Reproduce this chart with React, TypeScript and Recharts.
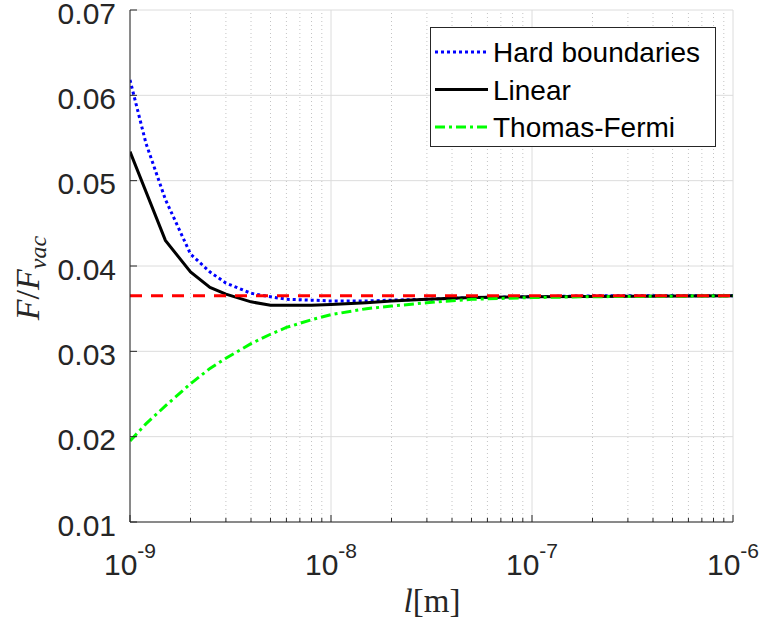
import React from 'react'
import { LineChart, Line, XAxis, YAxis, CartesianGrid, ReferenceLine, Legend } from 'recharts'

// x positions (m) and F/F_vac values
const hardX = [1e-9, 1.2e-9, 1.5e-9, 2e-9, 2.5e-9, 3e-9, 4e-9, 5e-9, 6e-9, 8e-9, 1e-8, 1.5e-8, 2e-8, 3e-8, 5e-8, 1e-7, 2e-7, 1e-6]
const hardY = [0.0618, 0.0544, 0.0478, 0.0414, 0.0393, 0.0380, 0.0368, 0.0364, 0.0361, 0.0360, 0.0359, 0.0359, 0.0360, 0.0361, 0.0363, 0.0364, 0.0365, 0.0365]

const linearX = [1e-9, 1.5e-9, 2e-9, 2.5e-9, 3e-9, 4e-9, 5e-9, 6e-9, 8e-9, 1e-8, 1.5e-8, 2e-8, 3e-8, 5e-8, 1e-7, 1e-6]
const linearY = [0.0534, 0.0430, 0.0393, 0.0375, 0.0367, 0.0358, 0.0354, 0.0354, 0.0354, 0.0355, 0.0357, 0.0359, 0.0361, 0.0363, 0.0364, 0.0365]

const tfX = [1e-9, 1.2e-9, 1.5e-9, 2e-9, 2.5e-9, 3e-9, 4e-9, 5e-9, 6e-9, 8e-9, 1e-8, 1.5e-8, 2e-8, 3e-8, 5e-8, 1e-7, 2e-7, 1e-6]
const tfY = [0.0195, 0.0215, 0.0236, 0.0262, 0.0280, 0.0292, 0.0309, 0.0320, 0.0328, 0.0337, 0.0343, 0.0350, 0.0353, 0.0357, 0.0361, 0.0363, 0.0364, 0.0365]

const asymptoteX = [1e-9, 1e-6]
const asymptoteY = [0.0365, 0.0365]

const majorTicks = [1e-9, 1e-8, 1e-7, 1e-6]
const minorTicks = [
  2e-9, 3e-9, 4e-9, 5e-9, 6e-9, 7e-9, 8e-9, 9e-9,
  2e-8, 3e-8, 4e-8, 5e-8, 6e-8, 7e-8, 8e-8, 9e-8,
  2e-7, 3e-7, 4e-7, 5e-7, 6e-7, 7e-7, 8e-7, 9e-7,
]
const yTicks = [0.01, 0.02, 0.03, 0.04, 0.05, 0.06, 0.07]

const allXTicks = [...majorTicks, ...minorTicks].sort((a, b) => a - b)

const toPoints = (xs: number[], ys: number[]) => xs.map((x, i) => ({ x, y: ys[i] }))

const hardData = toPoints(hardX, hardY)
const linearData = toPoints(linearX, linearY)
const tfData = toPoints(tfX, tfY)
const asymptoteData = toPoints(asymptoteX, asymptoteY)

const AXIS = '#262626'
const FONT = '"Liberation Sans", Arial, Helvetica, sans-serif'
const SERIF = '"Liberation Serif", "Times New Roman", serif'

const isMajor = (v: number) => {
  const e = Math.log10(v)
  return Math.abs(e - Math.round(e)) < 1e-6
}

function BottomTick({ x, y, payload }: any) {
  const v = payload.value
  const major = isMajor(v)
  return (
    <g>
      <line x1={x} x2={x} y1={y} y2={y - (major ? 7 : 4)} stroke={AXIS} strokeWidth={1} />
      {major && (
        <text x={x} y={y + 53} textAnchor="middle" fontFamily={FONT} fontSize={30} fill={AXIS}>
          <tspan>10</tspan>
          <tspan dy={-17} fontSize={21}>{String(Math.round(Math.log10(v)))}</tspan>
        </text>
      )}
    </g>
  )
}

function TopTick({ x, y, payload }: any) {
  const major = isMajor(payload.value)
  return <line x1={x} x2={x} y1={y} y2={y + (major ? 7 : 4)} stroke={AXIS} strokeWidth={1} />
}

function LeftTick({ x, y, payload }: any) {
  return (
    <g>
      <line x1={x} x2={x + 7} y1={y} y2={y} stroke={AXIS} strokeWidth={1} />
      <text x={x - 14} y={y + 3} dy="0.36em" textAnchor="end" fontFamily={FONT} fontSize={30} fill={AXIS}>
        {payload.value.toFixed(2)}
      </text>
    </g>
  )
}

function RightTick({ x, y }: any) {
  return <line x1={x} x2={x - 7} y1={y} y2={y} stroke={AXIS} strokeWidth={1} />
}

const legendItems = [
  { name: 'Hard boundaries', color: '#0000ff', dash: '3 3' },
  { name: 'Linear', color: '#000000', dash: undefined },
  { name: 'Thomas-Fermi', color: '#00ff00', dash: '10 4 3 4' },
]

function LegendBox() {
  return (
    <svg width={286} height={120}>
      <rect x={0.5} y={0.5} width={285} height={119} fill="#fff" stroke={AXIS} strokeWidth={1} />
      {legendItems.map((it, i) => {
        const cy = 25 + i * 37.5
        return (
          <g key={it.name}>
            <line x1={5} x2={58} y1={cy} y2={cy} stroke={it.color} strokeWidth={3} strokeDasharray={it.dash} />
            <text x={63} y={cy} dy="0.36em" fontFamily={FONT} fontSize={28} fill="#000">
              {it.name}
            </text>
          </g>
        )
      })}
    </svg>
  )
}

export default function App() {
  return (
    <div style={{ position: 'absolute', left: 0, top: 0, width: 764, height: 625, background: '#fff' }}>
      <LineChart width={764} height={625} margin={{ top: 10, right: 31, bottom: 0, left: 0 }}>
        <CartesianGrid vertical={false} stroke="#dcdcdc" />
        {minorTicks.map((t) => (
          <ReferenceLine key={'m' + t} x={t} stroke="#c4c4c4" strokeDasharray="1 3" />
        ))}
        {majorTicks.map((t) => (
          <ReferenceLine key={'M' + t} x={t} stroke="#dcdcdc" />
        ))}
        <XAxis
          dataKey="x"
          type="number"
          scale="log"
          domain={[1e-9, 1e-6]}
          allowDataOverflow
          ticks={allXTicks}
          interval={0}
          height={103}
          tickSize={0}
          tickMargin={0}
          tick={<BottomTick />}
          axisLine={{ stroke: AXIS }}
        />
        <XAxis
          xAxisId="top"
          orientation="top"
          dataKey="x"
          type="number"
          scale="log"
          domain={[1e-9, 1e-6]}
          allowDataOverflow
          ticks={allXTicks}
          interval={0}
          height={0}
          tickSize={0}
          tickMargin={0}
          tick={<TopTick />}
          axisLine={{ stroke: AXIS }}
        />
        <YAxis
          type="number"
          domain={[0.01, 0.07]}
          ticks={yTicks}
          interval={0}
          width={130}
          tickSize={0}
          tickMargin={0}
          tick={<LeftTick />}
          axisLine={{ stroke: AXIS }}
          allowDataOverflow
        />
        <YAxis
          yAxisId="right"
          orientation="right"
          type="number"
          domain={[0.01, 0.07]}
          ticks={yTicks}
          interval={0}
          width={0}
          tickSize={0}
          tickMargin={0}
          tick={<RightTick />}
          axisLine={{ stroke: AXIS }}
          allowDataOverflow
        />
        <Line data={hardData} dataKey="y" name="Hard boundaries" stroke="#0000ff" strokeWidth={3} strokeDasharray="3 3" dot={false} isAnimationActive={false} />
        <Line data={linearData} dataKey="y" name="Linear" stroke="#000000" strokeWidth={3} dot={false} isAnimationActive={false} />
        <Line data={tfData} dataKey="y" name="Thomas-Fermi" stroke="#00ff00" strokeWidth={3} strokeDasharray="10 4 3 4" dot={false} isAnimationActive={false} />
        <Line data={asymptoteData} dataKey="y" name="asymptote" stroke="#ff0000" strokeWidth={3} strokeDasharray="12 9" dot={false} isAnimationActive={false} legendType="none" />
        <Legend
          layout="vertical"
          align="center"
          verticalAlign="middle"
          content={() => <LegendBox />}
          wrapperStyle={{ left: 430, top: 27, width: 286, height: 120 }}
        />
      </LineChart>
      <svg width={764} height={625} style={{ position: 'absolute', left: 0, top: 0, pointerEvents: 'none' }}>
        <text x={432} y={612} textAnchor="middle" fontFamily={SERIF} fontSize={33} fill={AXIS}>
          <tspan fontStyle="italic">l</tspan>
          <tspan>[m]</tspan>
        </text>
        <text transform="translate(39,278) rotate(-90)" textAnchor="middle" fontFamily={SERIF} fontSize={34} fill={AXIS}>
          <tspan fontStyle="italic">F</tspan>
          <tspan>/</tspan>
          <tspan fontStyle="italic">F</tspan>
          <tspan fontStyle="italic" fontSize={24} dy={7}>vac</tspan>
        </text>
      </svg>
    </div>
  )
}
